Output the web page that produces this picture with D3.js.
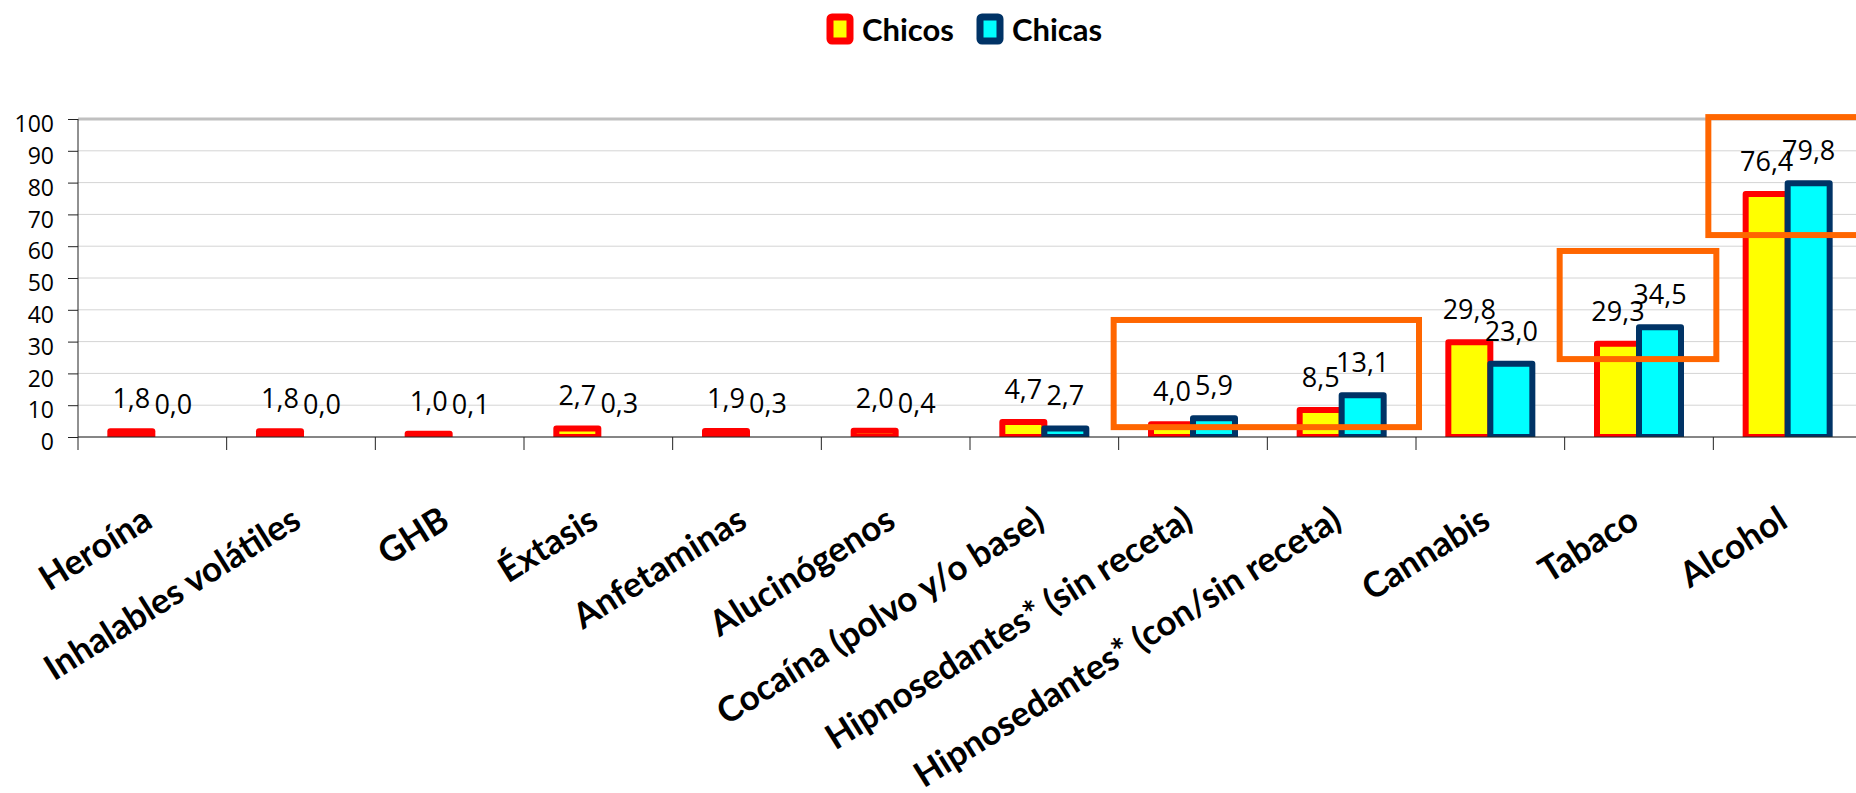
<!DOCTYPE html>
<html>
<head>
<meta charset="utf-8">
<script src="https://cdn.jsdelivr.net/npm/d3@7"></script>
<style>
  body { margin: 0; background: #fff; }
  svg { display: block; }
</style>
</head>
<body>
<script>

var categories = ["Heroína", "Inhalables volátiles", "GHB", "Éxtasis", "Anfetaminas", "Alucinógenos",
  "Cocaína (polvo y/o base)", "Hipnosedantes* (sin receta)", "Hipnosedantes* (con/sin receta)",
  "Cannabis", "Tabaco", "Alcohol"];
var chicos = [1.8, 1.8, 1.0, 2.7, 1.9, 2.0, 4.7, 4.0, 8.5, 29.8, 29.3, 76.4];
var chicas = [0.0, 0.0, 0.1, 0.3, 0.3, 0.4, 2.7, 5.9, 13.1, 23.0, 34.5, 79.8];
var seriesNames = ["Chicos", "Chicas"];
var yTicks = [0, 10, 20, 30, 40, 50, 60, 70, 80, 90, 100];

// orange highlight boxes: first/last category and value range
var boxes = [
  { from: "Hipnosedantes* (sin receta)", to: "Hipnosedantes* (con/sin receta)", lo: 3.1, hi: 36.8 },
  { from: "Tabaco", to: "Tabaco", lo: 24.5, hi: 58.5 },
  { from: "Alcohol", to: "Alcohol", lo: 63.5, hi: 100.6 }
];

var colors = {
  Chicos: { fill: "#ffff00", stroke: "#ff0000" },
  Chicas: { fill: "#00ffff", stroke: "#003366" }
};

var W = 1856, H = 793;
var svg = d3.select("body").append("svg")
    .attr("width", W)
    .attr("height", H)
    .style("font-family", "'Open Sans', sans-serif");

var x = d3.scaleBand().domain(categories).range([78, 1862]);
var y = d3.scaleLinear().domain([0, 100]).range([437, 119]);
var barW = 42;

// gridlines
svg.append("g").selectAll("line")
    .data(yTicks)
    .enter().append("line")
    .attr("x1", 78).attr("x2", W)
    .attr("y1", function(d) { return y(d); })
    .attr("y2", function(d) { return y(d); })
    .attr("stroke", function(d) { return d == 100 ? "#c0c0c0" : "#d4d4d4"; })
    .attr("stroke-width", function(d) { return d == 100 ? 3 : 1; });

// y axis
var yAxis = svg.append("g")
    .attr("transform", "translate(78,0)")
    .call(d3.axisLeft(y).tickValues(yTicks).tickSize(10).tickPadding(14));
yAxis.select(".domain").remove();
yAxis.selectAll("line").attr("stroke", "#222");
yAxis.selectAll("text")
    .attr("font-size", "23px")
    .attr("font-family", "'Open Sans', sans-serif")
    .attr("dy", "0.55em")
    .attr("fill", "#000");
svg.append("line")
    .attr("x1", 78).attr("x2", 78)
    .attr("y1", y(100)).attr("y2", y(0) + 13)
    .attr("stroke", "#222");

// clip bars at the baseline
svg.append("clipPath").attr("id", "plotclip")
  .append("rect").attr("x", 0).attr("y", 0).attr("width", W).attr("height", y(0));

var bars = svg.append("g").attr("clip-path", "url(#plotclip)");

seriesNames.forEach(function(name, si) {
  var vals = si == 0 ? chicos : chicas;
  // tiny values (< 0.5) are not visible in the original
  bars.selectAll("rect.s" + si)
      .data(vals.map(function(v, i) { return { c: categories[i], v: v }; }).filter(function(d) { return d.v >= 0.5; }))
      .enter().append("rect")
      .attr("class", "s" + si)
      .attr("x", function(d) { return x(d.c) + x.bandwidth() / 2 - barW + si * barW; })
      .attr("y", function(d) { return y(d.v); })
      .attr("width", barW)
      .attr("height", function(d) { return y(0) - y(d.v); })
      .attr("fill", colors[name].fill)
      .attr("stroke", colors[name].stroke)
      .attr("stroke-width", 6)
      .attr("stroke-linejoin", "round");
});

// x axis
var xAxis = svg.append("g")
    .attr("transform", "translate(0," + y(0) + ")");
xAxis.append("line")
    .attr("x1", 78).attr("x2", W)
    .attr("stroke", "#222");
xAxis.selectAll("line.tick")
    .data(categories)
    .enter().append("line")
    .attr("class", "tick")
    .attr("x1", function(d) { return x(d) + x.bandwidth(); })
    .attr("x2", function(d) { return x(d) + x.bandwidth(); })
    .attr("y1", 0).attr("y2", 13)
    .attr("stroke", "#222");

xAxis.selectAll("text")
    .data(categories)
    .enter().append("text")
    .attr("transform", function(d) { return "translate(" + (x(d) + x.bandwidth() / 2 + 2) + ",89) rotate(-32)"; })
    .attr("text-anchor", "end")
    .attr("font-family", "Lato, sans-serif")
    .attr("font-size", "35px")
    .attr("font-weight", "bold")
    .text(function(d) { return d; });

// value labels
seriesNames.forEach(function(name, si) {
  var vals = si == 0 ? chicos : chicas;
  svg.append("g").selectAll("text")
      .data(vals)
      .enter().append("text")
      .attr("x", function(d, i) { return x(categories[i]) + x.bandwidth() / 2 - barW / 2 + si * barW; })
      .attr("y", function(d) { return y(d) - 23; })
      .attr("text-anchor", "middle")
      .attr("font-size", "27px")
      .attr("fill", "#000")
      .text(function(d) { return d.toFixed(1).replace(".", ","); });
});

// highlight boxes
svg.append("g").selectAll("rect")
    .data(boxes)
    .enter().append("rect")
    .attr("x", function(d) { return x(d.from) - 5; })
    .attr("y", function(d) { return y(d.hi); })
    .attr("width", function(d) { return x(d.to) + x.bandwidth() - x(d.from) + 8; })
    .attr("height", function(d) { return y(d.lo) - y(d.hi); })
    .attr("fill", "none")
    .attr("stroke", "#ff6600")
    .attr("stroke-width", 6);

// legend
var legend = svg.append("g").selectAll("g")
    .data(seriesNames)
    .enter().append("g")
    .attr("transform", function(d, i) { return "translate(" + (830 + i * 150) + ",17)"; });
legend.append("rect")
    .attr("width", 20).attr("height", 24)
    .attr("rx", 2)
    .attr("fill", function(d) { return colors[d].fill; })
    .attr("stroke", function(d) { return colors[d].stroke; })
    .attr("stroke-width", 7)
    .attr("stroke-linejoin", "round");
legend.append("text")
    .attr("x", 32).attr("y", 24)
    .attr("font-family", "Lato, sans-serif")
    .attr("font-size", "31px")
    .attr("font-weight", "bold")
    .text(function(d) { return d; });

</script>
</body>
</html>
